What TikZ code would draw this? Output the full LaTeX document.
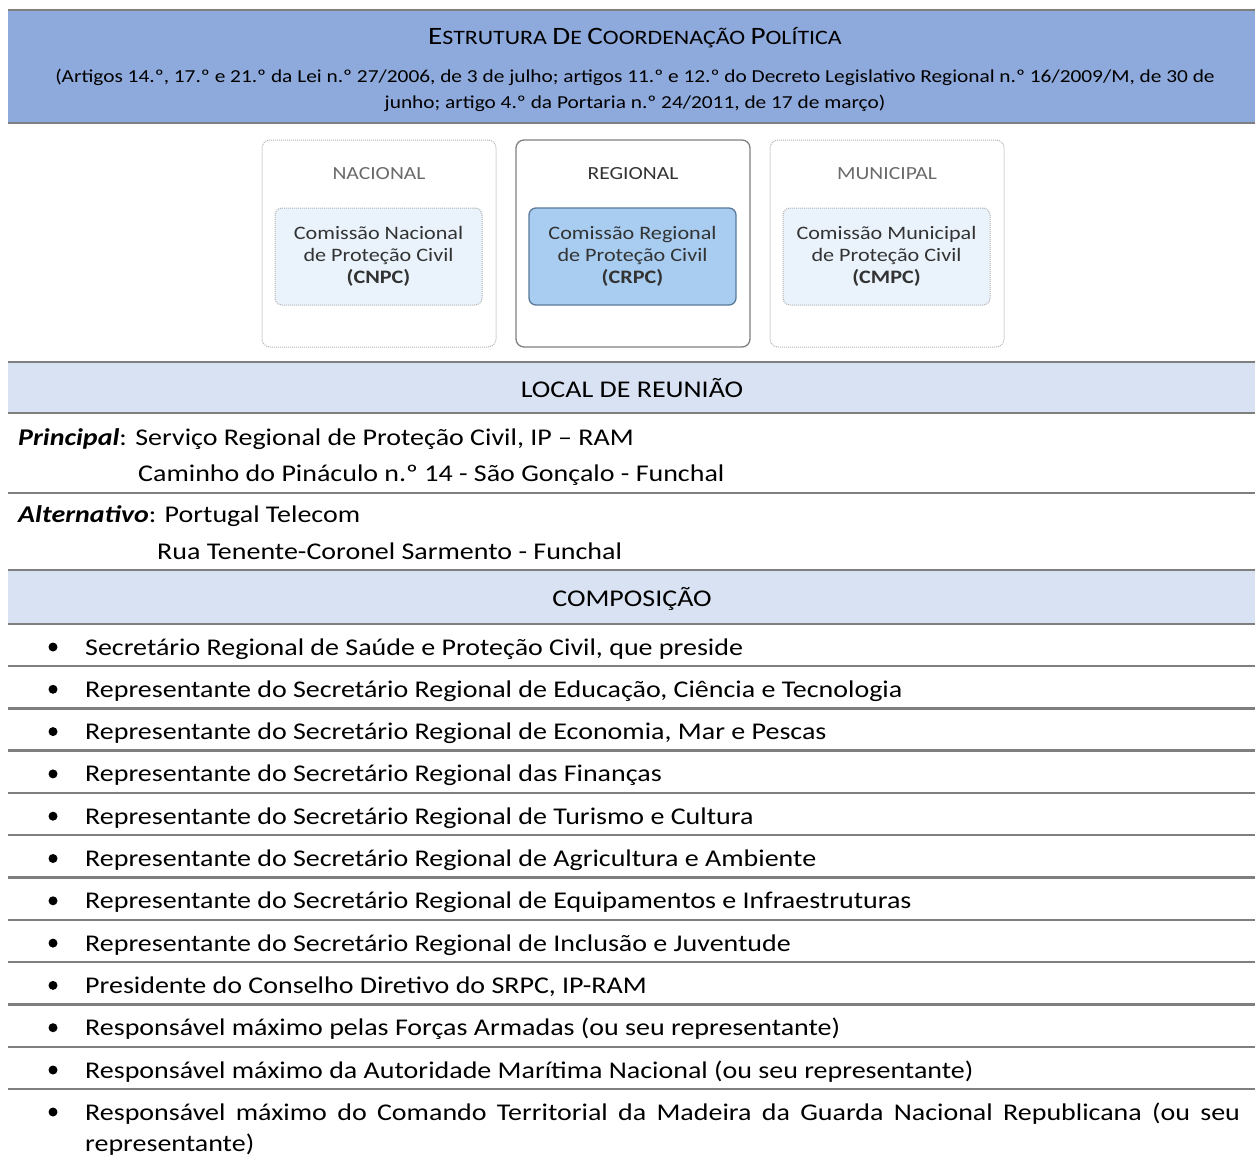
\documentclass[tikz,border=0pt]{standalone}
\usepackage{fontspec}
\setmainfont{Carlito}[FakeStretch=1.166]
\definecolor{hdr}{HTML}{8EA9DB}
\definecolor{band}{HTML}{D9E2F3}
\definecolor{rulec}{HTML}{7F7F7F}
\definecolor{lightin}{HTML}{EAF3FC}
\definecolor{regin}{HTML}{A8CDF1}
\definecolor{regdraw}{HTML}{5B7A99}
\definecolor{grtxt}{HTML}{6A6A6A}
\definecolor{dktxt}{HTML}{333333}
\newcommand{\mainfs}{\fontsize{24}{28}\selectfont}
\newcommand{\subfs}{\fontsize{18.3}{26}\selectfont}
\newcommand{\boxfs}{\fontsize{19}{22}\selectfont}
\newcommand{\lvlfs}{\fontsize{18.5}{22}\selectfont}
\newcommand{\titfs}{\fontsize{20.5}{28}\selectfont}
\newcommand{\bigc}[1]{{\fontsize{25}{28}\selectfont #1}}
\tikzset{
  rulel/.style={draw=rulec, line width=2.4pt},
  maintext/.style={font=\mainfs, inner sep=0pt, anchor=base west},
  outerdot/.style={draw=gray!60, densely dotted, line width=1pt, rounded corners=8pt, minimum width=234pt, minimum height=207pt, inner sep=0pt},
  outerreg/.style={draw=rulec, line width=1.3pt, rounded corners=8pt, minimum width=234pt, minimum height=207pt, inner sep=0pt},
  innerdot/.style={draw=gray!60, densely dotted, line width=1pt, fill=lightin, rounded corners=7pt, minimum width=207pt, minimum height=97pt, align=center, font=\boxfs, text=dktxt, inner sep=0pt},
  innerreg/.style={draw=regdraw, line width=1.3pt, fill=regin, rounded corners=7pt, minimum width=207pt, minimum height=97pt, align=center, font=\boxfs, text=dktxt, inner sep=0pt},
  lvl/.style={font=\lvlfs, inner sep=0pt, anchor=base},
  bul/.style={circle, fill=black, inner sep=0pt, minimum size=9pt},
}
\begin{document}
\begin{tikzpicture}[x=1pt,y=-1pt]
\useasboundingbox (0,0) rectangle (1255,1156);
% header
\fill[hdr] (8,10) rectangle (1255,123);
\draw[rulel] (8,10) -- (1255,10);
\draw[rulel] (8,123) -- (1255,123);
\node[inner sep=0pt, anchor=base, font=\titfs] (title) at (635,45) {\bigc{E}STRUTURA \bigc{D}E \bigc{C}OORDENAÇÃO \bigc{P}OLÍTICA};
\node[inner sep=0pt, anchor=base, font=\subfs] (sub1) at (635,82) {(Artigos 14.º, 17.º e 21.º da Lei n.º 27/2006, de 3 de julho; artigos 11.º e 12.º do Decreto Legislativo Regional n.º 16/2009/M, de 30 de};
\node[inner sep=0pt, anchor=base, font=\subfs] (sub2) at (635,108) {junho; artigo 4.º da Portaria n.º 24/2011, de 17 de março)};
% diagram
\node[outerdot] (nac) at (379,243.5) {};
\node[outerreg] (reg) at (633,243.5) {};
\node[outerdot] (mun) at (887,243.5) {};
\node[lvl, text=grtxt] (nact) at (379,179) {NACIONAL};
\node[lvl, text=dktxt] (regt) at (633,179) {REGIONAL};
\node[lvl, text=grtxt] (munt) at (887,179) {MUNICIPAL};
\node[innerdot] (nacb) at (378.5,256.5) {Comissão Nacional\\de Proteção Civil\\\textbf{(CNPC)}};
\node[innerreg] (regb) at (632.5,256.5) {Comissão Regional\\de Proteção Civil\\\textbf{(CRPC)}};
\node[innerdot] (munb) at (886.5,256.5) {Comissão Municipal\\de Proteção Civil\\\textbf{(CMPC)}};
% local de reuniao
\fill[band] (8,362) rectangle (1255,413);
\draw[rulel] (8,362) -- (1255,362);
\draw[rulel] (8,413) -- (1255,413);
\node[inner sep=0pt, anchor=base, font=\mainfs] (local) at (632,397) {LOCAL DE REUNIÃO};
\node[maintext] (princ) at (18,445) {\textbf{\textit{Principal}}: Serviço Regional de Proteção Civil, IP – RAM};
\node[maintext] (princ2) at (138,481) {Caminho do Pináculo n.º 14 - São Gonçalo - Funchal};
\draw[rulel] (8,493) -- (1255,493);
\node[maintext] (alt) at (18,522) {\textbf{\textit{Alternativo}}: Portugal Telecom};
\node[maintext] (alt2) at (157,559) {Rua Tenente-Coronel Sarmento - Funchal};
% composicao
\fill[band] (8,570) rectangle (1255,624);
\draw[rulel] (8,570) -- (1255,570);
\draw[rulel] (8,624) -- (1255,624);
\node[inner sep=0pt, anchor=base, font=\mainfs] (comp) at (632,606) {COMPOSIÇÃO};
\foreach \i/\t in {0/{Secretário Regional de Saúde e Proteção Civil, que preside},
  1/{Representante do Secretário Regional de Educação, Ciência e Tecnologia},
  2/{Representante do Secretário Regional de Economia, Mar e Pescas},
  3/{Representante do Secretário Regional das Finanças},
  4/{Representante do Secretário Regional de Turismo e Cultura},
  5/{Representante do Secretário Regional de Agricultura e Ambiente},
  6/{Representante do Secretário Regional de Equipamentos e Infraestruturas},
  7/{Representante do Secretário Regional de Inclusão e Juventude},
  8/{Presidente do Conselho Diretivo do SRPC, IP-RAM},
  9/{Responsável máximo pelas Forças Armadas (ou seu representante)},
  10/{Responsável máximo da Autoridade Marítima Nacional (ou seu representante)}}{
  \node[maintext] (it\i) at (85,{655+42.3*\i}) {\t};
  \node[bul] (b\i) at (53,{647+42.3*\i}) {};
  \draw[rulel] (8,{666+42.3*\i}) -- (1255,{666+42.3*\i});
}
\node[maintext] (it11) at (85,1120) {\makebox[1155pt][s]{Responsável máximo do Comando Territorial da Madeira da Guarda Nacional Republicana (ou seu}};
\node[bul] (b11) at (53,1112) {};
\node[maintext] (it11b) at (85,1151) {representante)};
\end{tikzpicture}
\end{document}
